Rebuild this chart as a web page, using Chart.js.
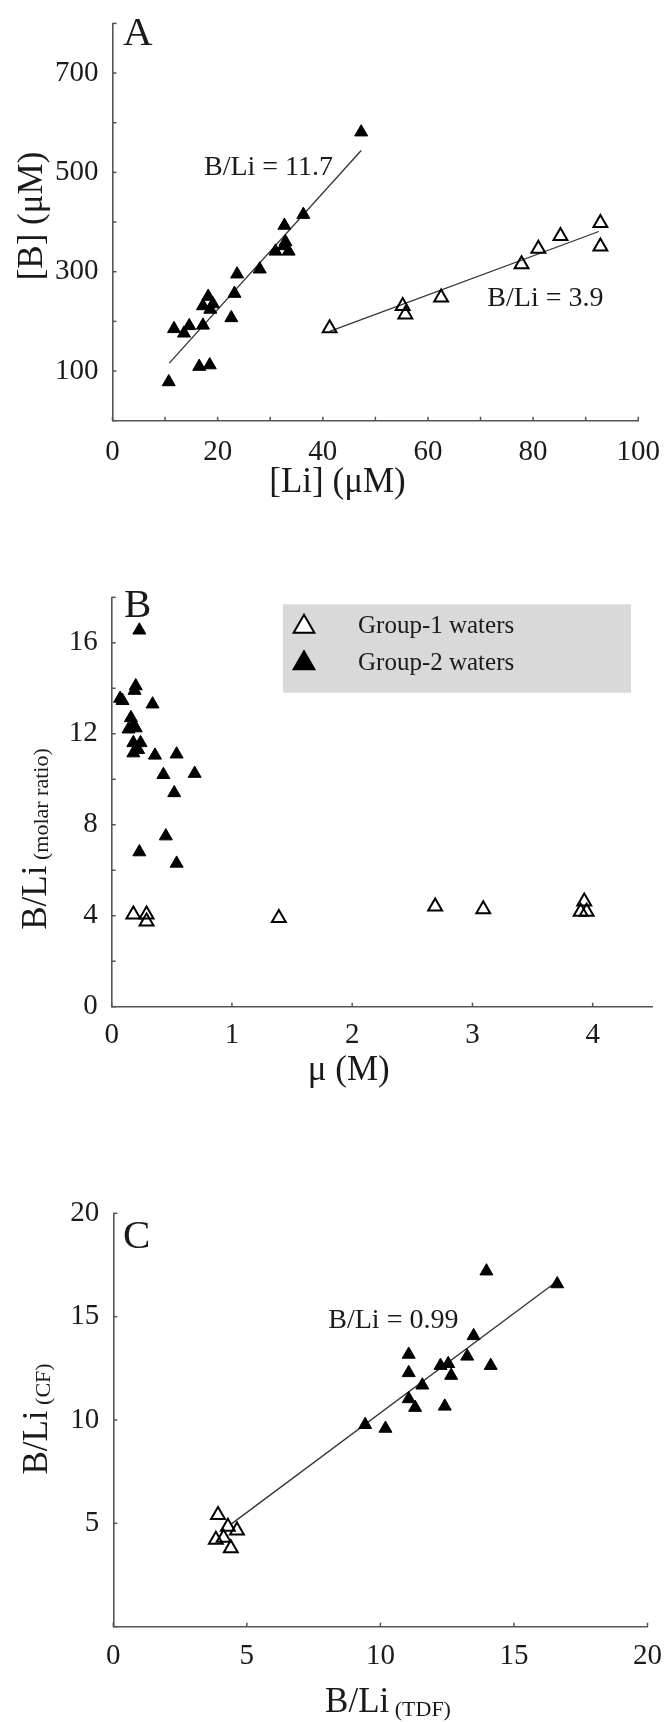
<!DOCTYPE html>
<html>
<head>
<meta charset="utf-8">
<script src="https://cdn.jsdelivr.net/npm/chart.js@4.4.1/dist/chart.umd.min.js"></script>
<style>
  html, body { margin: 0; padding: 0; background: #fff; }
  #wrap { position: relative; width: 666px; height: 1722px; }
  canvas { position: absolute; left: 0; }
</style>
</head>
<body>
<div id="wrap">
  <canvas id="chartA" width="666" height="505" style="top:0"></canvas>
  <canvas id="chartB" width="666" height="605" style="top:505px"></canvas>
  <canvas id="chartC" width="666" height="612" style="top:1110px"></canvas>
</div>
<script>
// ---- Panel A: [B] vs [Li] ----
const liA_g1 = [41.3, 55.2, 55.7, 62.5, 77.8, 81.0, 85.2, 92.8, 92.8];
const bA_g1  = [186, 231, 214, 248, 315, 346, 372, 398, 351];
const liA_g2 = [10.7, 11.7, 13.6, 14.6, 17.2, 16.5, 18.5, 17.2, 18.2, 19.1, 18.6, 22.6, 23.2, 23.7, 28.0, 31.0, 32.7, 32.9, 33.5, 32.6, 36.3, 47.3];
const bA_g2  = [78, 185, 176, 191, 192, 109, 112, 231, 250, 235, 224, 207, 256, 295, 305, 341, 393, 360, 341, 352, 415, 581];
const fitA1_x = [41.3, 92.5], fitA1_y = [180, 381];
const fitA2_x = [10.8, 47.3], fitA2_y = [116, 544];
const xTicksA = [0, 10, 20, 30, 40, 50, 60, 70, 80, 90, 100];
const xLabelsA = ['0', '', '20', '', '40', '', '60', '', '80', '', '100'];
const yTicksA = [0, 100, 200, 300, 400, 500, 600, 700, 800];
const yLabelsA = ['', '100', '', '300', '', '500', '', '700', ''];

// ---- Panel B: B/Li vs ionic strength ----
const muB_g1 = [0.18, 0.29, 0.29, 1.39, 2.69, 3.09, 3.93, 3.90, 3.95];
const ratioB_g1 = [4.05, 4.05, 3.75, 3.9, 4.4, 4.28, 4.62, 4.18, 4.18];
const muB_g2 = [0.23, 0.20, 0.19, 0.07, 0.09, 0.34, 0.16, 0.18, 0.20, 0.14, 0.18, 0.24, 0.22, 0.18, 0.36, 0.54, 0.43, 0.69, 0.52, 0.45, 0.23, 0.54];
const ratioB_g2 = [16.55, 14.1, 13.9, 13.55, 13.45, 13.3, 12.7, 12.4, 12.25, 12.2, 11.6, 11.6, 11.3, 11.15, 11.05, 11.1, 10.2, 10.25, 9.4, 7.5, 6.8, 6.3];
const xTicksB = [0, 1, 2, 3, 4];
const xLabelsB = ['0', '1', '2', '3', '4'];
const yTicksB = [0, 2, 4, 6, 8, 10, 12, 14, 16, 18];
const yLabelsB = ['0', '', '4', '', '8', '', '12', '', '16', ''];
const legendLabels = ['Group-1 waters', 'Group-2 waters'];

// ---- Panel C: B/Li (CF) vs B/Li (TDF) ----
const tdfC_g1 = [3.92, 4.29, 4.63, 3.84, 4.13, 4.4];
const cfC_g1  = [5.41, 4.84, 4.66, 4.21, 4.3, 3.8];
const tdfC_g2 = [13.97, 16.62, 13.49, 11.06, 13.25, 12.25, 12.54, 14.13, 11.06, 12.65, 11.57, 11.06, 11.3, 12.41, 9.43, 10.19];
const cfC_g2  = [17.2, 16.58, 14.07, 13.17, 13.08, 12.63, 12.72, 12.63, 12.28, 12.15, 11.68, 11.02, 10.6, 10.66, 9.77, 9.59];
const fitC_x = [4.4, 16.5], fitC_y = [4.95, 16.6];
const xTicksC = [0, 5, 10, 15, 20];
const xLabelsC = ['0', '5', '10', '15', '20'];
const yTicksC = [0, 5, 10, 15, 20];
const yLabelsC = ['', '5', '10', '15', '20'];

const SERIF = '"Liberation Serif", "Times New Roman", serif';
const INK = '#1a1a1a';
const AXIS = '#555';

const zip = (xs, ys) => xs.map((x, i) => ({ x: x, y: ys[i] }));

function tri(ctx, x, y, r, fill) {
    ctx.beginPath();
    for (let k = 0; k < 3; k++) {
        const a = k * 2 * Math.PI / 3;
        const px = x + Math.sin(a) * r, py = y - Math.cos(a) * r;
        if (k === 0) ctx.moveTo(px, py); else ctx.lineTo(px, py);
    }
    ctx.closePath();
    ctx.fillStyle = fill;
    ctx.fill();
    ctx.lineWidth = 2;
    ctx.strokeStyle = '#000';
    ctx.stroke();
}

// text made of pieces (main text + smaller subscript)
function richText(ctx, parts, cx, base, rotated) {
    ctx.save();
    ctx.translate(cx, base);
    if (rotated) ctx.rotate(-Math.PI / 2);
    let total = 0;
    parts.forEach(p => {
        ctx.font = `${p.size}px ${SERIF}`;
        p.w = ctx.measureText(p.text).width;
        total += p.w;
    });
    let x = -total / 2;
    ctx.fillStyle = INK;
    ctx.textAlign = 'left';
    ctx.textBaseline = 'alphabetic';
    parts.forEach(p => {
        ctx.font = `${p.size}px ${SERIF}`;
        ctx.fillText(p.text, x, p.dy || 0);
        x += p.w;
    });
    ctx.restore();
}

function decor(cfg) {
    return {
        id: 'decor',
        afterDraw(chart) {
            const ctx = chart.ctx;
            const ca = chart.chartArea;
            const sx = chart.scales.x, sy = chart.scales.y;
            ctx.save();
            // inward tick marks
            ctx.strokeStyle = AXIS;
            ctx.lineWidth = 1.5;
            sx.ticks.forEach(t => {
                const px = sx.getPixelForValue(t.value);
                ctx.beginPath(); ctx.moveTo(px, ca.bottom); ctx.lineTo(px, ca.bottom - 4); ctx.stroke();
            });
            sy.ticks.forEach(t => {
                const py = sy.getPixelForValue(t.value);
                ctx.beginPath(); ctx.moveTo(ca.left, py); ctx.lineTo(ca.left + 4, py); ctx.stroke();
            });
            // panel letter
            ctx.fillStyle = INK;
            ctx.font = `41px ${SERIF}`;
            ctx.textAlign = 'left';
            ctx.textBaseline = 'alphabetic';
            ctx.fillText(cfg.letter, cfg.letterPos[0], cfg.letterPos[1]);
            // slope notes
            ctx.font = `28px ${SERIF}`;
            (cfg.notes || []).forEach(n => {
                ctx.fillText(n.text, sx.getPixelForValue(n.x), sy.getPixelForValue(n.y));
            });
            // axis titles
            richText(ctx, cfg.xTitle, cfg.xTitlePos[0], cfg.xTitlePos[1], false);
            richText(ctx, cfg.yTitle, cfg.yTitlePos[0], cfg.yTitlePos[1], true);
            // legend box
            if (cfg.legend) {
                const L = cfg.legend;
                ctx.fillStyle = '#d9d9d9';
                ctx.fillRect(L.x, L.y, L.w, L.h);
                tri(ctx, L.markX, L.rows[0], 12, '#fff');
                tri(ctx, L.markX, L.rows[1], 12, '#000');
                ctx.fillStyle = INK;
                ctx.font = `25px ${SERIF}`;
                ctx.textBaseline = 'middle';
                legendLabels.forEach((s, i) => ctx.fillText(s, L.textX, L.rows[i]));
            }
            ctx.restore();
        }
    };
}

function axis(min, max, vals, labels, fitSize, horizontal, pad) {
    return {
        type: 'linear',
        min: min,
        max: max,
        afterBuildTicks: s => { s.ticks = vals.map(v => ({ value: v })); },
        afterFit: s => { if (horizontal) s.height = fitSize; else s.width = fitSize; },
        grid: { display: false },
        border: { display: true, color: AXIS, width: 1.6 },
        ticks: {
            autoSkip: false,
            maxRotation: 0,
            padding: pad,
            color: INK,
            font: { family: SERIF, size: 29 },
            callback: v => labels[vals.indexOf(v)] ?? ''
        }
    };
}

function openSet(data) {
    return { data: data, pointStyle: 'triangle', pointRadius: 8, pointBorderWidth: 2,
             pointBackgroundColor: 'rgba(0,0,0,0)', pointBorderColor: '#000', showLine: false };
}
function filledSet(data) {
    return { data: data, pointStyle: 'triangle', pointRadius: 7.5, pointBorderWidth: 1,
             pointBackgroundColor: '#000', pointBorderColor: '#000', showLine: false };
}
function fitSet(data) {
    return { data: data, showLine: true, pointRadius: 0, borderColor: '#333', borderWidth: 1.3, fill: false };
}

function panel(id, datasets, scales, padding, cfg) {
    return new Chart(document.getElementById(id), {
        type: 'scatter',
        data: { datasets: datasets },
        options: {
            responsive: false,
            animation: false,
            events: [],
            layout: { padding: padding },
            plugins: { legend: { display: false }, tooltip: { enabled: false } },
            scales: scales
        },
        plugins: [decor(cfg)]
    });
}

panel('chartA',
    [openSet(zip(liA_g1, bA_g1)), filledSet(zip(liA_g2, bA_g2)), fitSet(zip(fitA1_x, fitA1_y)), fitSet(zip(fitA2_x, fitA2_y))],
    { x: axis(0, 100, xTicksA, xLabelsA, 505 - 420.7, true, 6), y: axis(0, 800, yTicksA, yLabelsA, 112.5, false, 6) },
    { left: 0, top: 10.7, right: 26.5, bottom: 0 },
    {
        letter: 'A', letterPos: [123, 45],
        notes: [{ text: 'B/Li = 11.7', x: 17.4, y: 495 }, { text: 'B/Li = 3.9', x: 71.3, y: 231 }],
        xTitle: [{ text: '[Li] (μM)', size: 35 }], xTitlePos: [337.5, 492],
        yTitle: [{ text: '[B] (μM)', size: 35 }], yTitlePos: [42, 216]
    });

panel('chartB',
    [openSet(zip(muB_g1, ratioB_g1)), filledSet(zip(muB_g2, ratioB_g2))],
    { x: axis(0, 4.5, xTicksB, xLabelsB, 605 - 501.7, true, 3), y: axis(0, 18, yTicksB, yLabelsB, 111.7, false, 6) },
    { left: 0, top: 92.3, right: 13.2, bottom: 0 },
    {
        letter: 'B', letterPos: [124, 112],
        xTitle: [{ text: 'μ (M)', size: 35 }], xTitlePos: [348.7, 575],
        yTitle: [{ text: 'B/Li', size: 35 }, { text: ' (molar ratio)', size: 22, dy: 2 }], yTitlePos: [46, 334],
        legend: { x: 283, y: 99.3, w: 348, h: 88.4, markX: 304, rows: [121.7, 158.3], textX: 358 }
    });

panel('chartC',
    [openSet(zip(tdfC_g1, cfC_g1)), filledSet(zip(tdfC_g2, cfC_g2)), fitSet(zip(fitC_x, fitC_y))],
    { x: axis(0, 20, xTicksC, xLabelsC, 612 - 516.7, true, 4), y: axis(0, 20, yTicksC, yLabelsC, 113.3, false, 6) },
    { left: 0, top: 103.3, right: 17.7, bottom: 0 },
    {
        letter: 'C', letterPos: [123, 138],
        notes: [{ text: 'B/Li = 0.99', x: 8.05, y: 14.45 }],
        xTitle: [{ text: 'B/Li', size: 35 }, { text: ' (TDF)', size: 22, dy: 4 }], xTitlePos: [388, 601.7],
        yTitle: [{ text: 'B/Li', size: 35 }, { text: ' (CF)', size: 22, dy: 3 }], yTitlePos: [47, 309]
    });
</script>
</body>
</html>
